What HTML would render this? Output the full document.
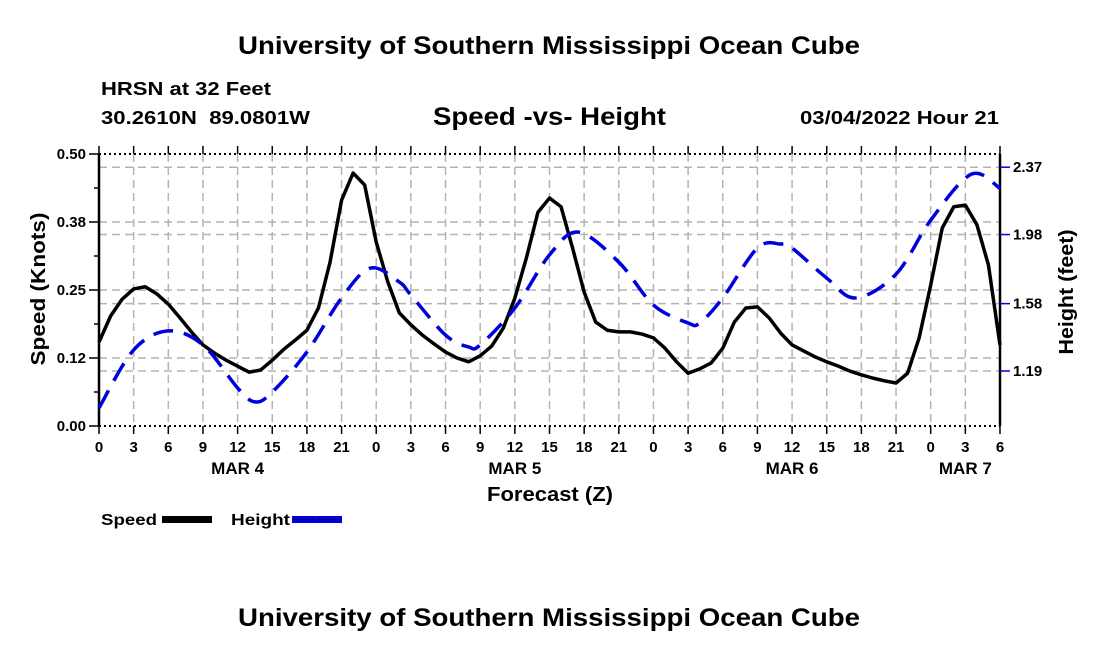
<!DOCTYPE html>
<html><head><meta charset="utf-8"><style>
body{margin:0;background:#fff;width:1100px;height:650px;overflow:hidden}
svg text{font-family:"Liberation Sans",sans-serif;font-weight:bold;fill:#000}
</style></head><body>
<svg id="chart" width="1100" height="650" xmlns="http://www.w3.org/2000/svg">
<text x="238" y="54" font-size="25" textLength="622" lengthAdjust="spacingAndGlyphs">University of Southern Mississippi Ocean Cube</text>
<text x="101" y="95" font-size="18" textLength="170" lengthAdjust="spacingAndGlyphs">HRSN at 32 Feet</text>
<text x="101" y="124" font-size="18" textLength="209" lengthAdjust="spacingAndGlyphs" xml:space="preserve">30.2610N  89.0801W</text>
<text x="433" y="125" font-size="25" textLength="233" lengthAdjust="spacingAndGlyphs">Speed -vs- Height</text>
<text x="800" y="124" font-size="18" textLength="199" lengthAdjust="spacingAndGlyphs">03/04/2022 Hour 21</text>
<g id="grid"></g>
<g id="axes"></g>
<g id="series"></g>
<text x="487" y="501" font-size="20" textLength="126" lengthAdjust="spacingAndGlyphs">Forecast (Z)</text>
<text transform="translate(45,289) rotate(-90)" font-size="20" text-anchor="middle" textLength="153" lengthAdjust="spacingAndGlyphs">Speed (Knots)</text>
<text transform="translate(1073,292) rotate(-90)" font-size="20" text-anchor="middle" textLength="125" lengthAdjust="spacingAndGlyphs">Height (feet)</text>
<g>
<text x="101" y="525" font-size="16" textLength="56" lengthAdjust="spacingAndGlyphs">Speed</text>
<rect x="162" y="516" width="50" height="7" fill="#000"/>
<text x="231" y="525" font-size="16" textLength="59" lengthAdjust="spacingAndGlyphs">Height</text>
<rect x="292" y="516" width="50" height="7" fill="#0000dd"/>
<line x1="294" y1="519.5" x2="342" y2="519.5" stroke="#000066" stroke-width="1" stroke-dasharray="8 4"/>
</g>
<text x="238" y="626" font-size="25" textLength="622" lengthAdjust="spacingAndGlyphs">University of Southern Mississippi Ocean Cube</text>
</svg>
<script>
const speedHours = [0,1,2,3,4,5,6,7,8,9,10,11,12,13,14,15,16,17,18,19,20,21,22,23,24,25,26,27,28,29,30,31,32,33,34,35,36,37,38,39,40,41,42,43,44,45,46,47,48,49,50,51,52,53,54,55,56,57,58,59,60,61,62,63,64,65,66,67,68,69,70,71,72,73,74,75,76,77,78];
const speedValues = [0.154,0.202,0.233,0.252,0.256,0.243,0.224,0.199,0.173,0.149,0.134,0.121,0.110,0.099,0.103,0.121,0.141,0.158,0.176,0.217,0.301,0.415,0.465,0.443,0.338,0.265,0.208,0.186,0.167,0.151,0.136,0.125,0.118,0.129,0.147,0.180,0.235,0.309,0.393,0.419,0.403,0.327,0.246,0.191,0.176,0.173,0.173,0.169,0.162,0.143,0.118,0.097,0.105,0.116,0.143,0.191,0.217,0.219,0.199,0.171,0.149,0.138,0.127,0.118,0.110,0.101,0.094,0.088,0.083,0.079,0.097,0.162,0.259,0.364,0.403,0.406,0.370,0.296,0.149];
const heightHours = [0,3,6,9,12,13.5,15,18,21,23.5,26,27,30,32,33,36,39,41.5,45,48,51,52,54,57,59,60,63,65.5,69,72,75.5,78];
const heightValues = [0.976,1.312,1.422,1.341,1.092,1.011,1.068,1.300,1.613,1.786,1.705,1.630,1.398,1.329,1.341,1.555,1.862,1.994,1.820,1.572,1.468,1.468,1.613,1.902,1.925,1.902,1.728,1.613,1.751,2.063,2.329,2.248];
const leftTickValues = [0, 0.125, 0.25, 0.375, 0.5];
const leftTickLabels = ["0.00","0.12","0.25","0.38","0.50"];
const rightTickValues = [1.19, 1.58, 1.98, 2.37];
const rightTickLabels = ["1.19","1.58","1.98","2.37"];
const xTickHours = [0,3,6,9,12,15,18,21,24,27,30,33,36,39,42,45,48,51,54,57,60,63,66,69,72,75,78];
const xTickLabels = ["0","3","6","9","12","15","18","21","0","3","6","9","12","15","18","21","0","3","6","9","12","15","18","21","0","3","6"];
const dayLabels = ["MAR 4","MAR 5","MAR 6","MAR 7"];
const dayLabelHours = [12,36,60,75];

const L=99,R=1000,T=154,B=426;
const xs=h=>L+h*(R-L)/78;
const yS=v=>B-v*(B-T)/0.5;
const yH=v=>371-(v-1.19)*68/0.3937;
const NS="http://www.w3.org/2000/svg";
function mk(tag,attrs,parent){const e=document.createElementNS(NS,tag);for(const k in attrs)e.setAttribute(k,attrs[k]);parent.appendChild(e);return e;}
const grid=document.getElementById('grid'),axes=document.getElementById('axes'),series=document.getElementById('series');
const gs={stroke:"#b4b4b4","stroke-width":1.5,"stroke-dasharray":"8 5",fill:"none"};
leftTickValues.forEach(v=>{if(v>0&&v<0.5){const l=mk('line',Object.assign({x1:L,x2:R,y1:yS(v),y2:yS(v)},gs),grid);

}});
rightTickValues.forEach(v=>{const l=mk('line',Object.assign({x1:L,x2:R,y1:yH(v),y2:yH(v)},gs),grid);

});
xTickHours.forEach((h,i)=>{const x=xs(h);
if(i>0&&i<xTickHours.length-1){const l=mk('line',Object.assign({x1:x,x2:x,y1:T,y2:B},gs),grid);

}
mk('line',{x1:x,x2:x,y1:B,y2:B+8,stroke:"#000","stroke-width":1.5},axes);
mk('line',{x1:x,x2:x,y1:T-8,y2:T,stroke:"#000","stroke-width":1.5},axes);
const t=mk('text',{x:x,y:452,"font-size":15,"text-anchor":"middle"},axes);t.textContent=xTickLabels[i];

});
dayLabels.forEach((d,i)=>{const t=mk('text',{x:xs(dayLabelHours[i]),y:474,"font-size":17,"text-anchor":"middle"},axes);t.textContent=d;

});
mk('line',{x1:L,x2:R,y1:T,y2:T,stroke:"#000","stroke-width":2,"stroke-dasharray":"2 3"},axes);
mk('line',{x1:L,x2:R,y1:B,y2:B,stroke:"#000","stroke-width":2,"stroke-dasharray":"2 3"},axes);
mk('line',{x1:L,x2:L,y1:T,y2:B,stroke:"#000","stroke-width":2.5},axes);
mk('line',{x1:R,x2:R,y1:T,y2:B,stroke:"#000","stroke-width":2.5},axes);
leftTickValues.forEach((v,i)=>{const y=yS(v);mk('line',{x1:L-10,x2:L,y1:y,y2:y,stroke:"#000","stroke-width":1.5},axes);
const t=mk('text',{x:L-13,y:y+5,"font-size":15,"text-anchor":"end"},axes);t.textContent=leftTickLabels[i];


if(i<leftTickValues.length-1){const ym=yS(v+0.0625);mk('line',{x1:L-5,x2:L,y1:ym,y2:ym,stroke:"#000","stroke-width":1.5},axes);}});
rightTickValues.forEach((v,i)=>{const y=yH(v);mk('line',{x1:R,x2:R+10,y1:y,y2:y,stroke:"#0000dd","stroke-width":1.5},axes);
const t=mk('text',{x:R+13,y:y+5,"font-size":15},axes);t.textContent=rightTickLabels[i];

});
const sp=mk('polyline',{points:speedHours.map((h,i)=>xs(h)+","+yS(speedValues[i])).join(" "),fill:"none",stroke:"#000","stroke-width":3.5,"stroke-linejoin":"round"},series);


const P=heightHours.map((h,i)=>[xs(h),yH(heightValues[i])]);
let d="M"+P[0][0]+","+P[0][1];
for(let i=0;i<P.length-1;i++){const p0=P[i-1]||P[i],p1=P[i],p2=P[i+1],p3=P[i+2]||P[i+1];
d+=" C"+(p1[0]+(p2[0]-p0[0])/6)+","+(p1[1]+(p2[1]-p0[1])/6)+" "+(p2[0]-(p3[0]-p1[0])/6)+","+(p2[1]-(p3[1]-p1[1])/6)+" "+p2[0]+","+p2[1];}
const hp=mk('path',{d:d,fill:"none",stroke:"#0000dd","stroke-width":3.5,"stroke-dasharray":"20 11"},series);


</script>
</body></html>
